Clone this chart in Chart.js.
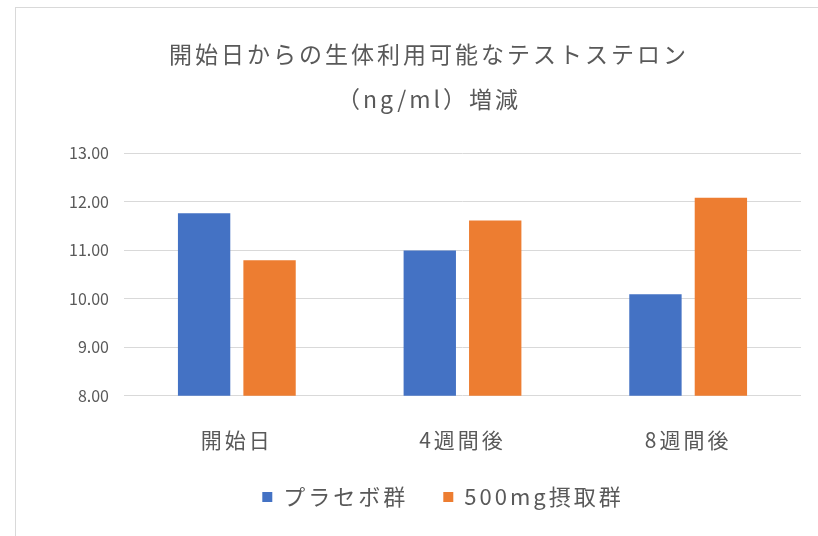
<!DOCTYPE html>
<html>
<head>
<meta charset="utf-8">
<script src="https://cdn.jsdelivr.net/npm/chart.js@4"></script>
<style>
  body { margin: 0; background: #fff; overflow: hidden; width: 818px; height: 536px; }
  #wrap { position: absolute; left: 15px; top: 7px; width: 830px; height: 560px;
          border-left: 1px solid #d9d9d9; border-top: 1px solid #d9d9d9; background: #fff; }
</style>
</head>
<body>
<div id="wrap"><canvas id="grafico" width="830" height="560"></canvas></div>
<script>
// datos
const categorias = ['開始日', '4週間後', '8週間後'];
const placebo = [11.76, 10.99, 10.09];
const grupo500 = [10.79, 11.61, 12.08];
const nombresSeries = ['プラセボ群', '500mg摂取群'];
const tituloLineas = ['開始日からの生体利用可能なテストステロン', '（ng/ml）増減'];
const yMin = 8, yMax = 13, yPaso = 1;

const gris = '#595959';
const fuente = '"Noto Sans CJK JP", "Noto Sans", sans-serif';

// el original tiene letras mas espaciadas: espaciado general, menos en el eje y
const espaciado = {
    id: 'espaciado',
    beforeLayout(chart) { chart.ctx.letterSpacing = '3px'; },
    afterLayout(chart) {
        // mover la leyenda (padding grande solo para separar los items)
        chart.legend.top -= 26;
        chart.legend.bottom -= 26;
        chart.legend.left += 14;
        chart.legend.right += 14;
    },
    beforeDraw(chart) {
        chart.ctx.letterSpacing = '3px';
        const ejeY = chart.scales.y;
        if (!ejeY._parcheado) {
            const original = ejeY.drawLabels;
            ejeY.drawLabels = function (area) {
                const c = this.ctx;
                c.save();
                c.letterSpacing = '0px';
                original.call(this, area);
                c.restore();
            };
            ejeY._parcheado = true;
        }
    }
};

const ctx = document.getElementById('grafico').getContext('2d');
new Chart(ctx, {
    type: 'bar',
    data: {
        labels: categorias,
        datasets: [{
            label: nombresSeries[0],
            data: placebo,
            backgroundColor: '#4472C4'
        }, {
            label: nombresSeries[1],
            data: grupo500,
            backgroundColor: '#ED7D31'
        }]
    },
    plugins: [espaciado],
    options: {
        responsive: false,
        animation: false,
        layout: { padding: { left: 41, right: 45, top: 0, bottom: 24 } },
        datasets: { bar: { categoryPercentage: 0.58, barPercentage: 0.8 } },
        plugins: {
            title: {
                display: true,
                text: tituloLineas,
                color: gris,
                font: { family: fuente, size: 23, weight: 'normal', lineHeight: 45 / 23 },
                padding: { top: 24, bottom: 31 }
            },
            legend: {
                position: 'bottom',
                labels: {
                    color: gris,
                    boxWidth: 10,
                    boxHeight: 10,
                    padding: 35,
                    font: { family: fuente, size: 22 }
                }
            },
            tooltip: { enabled: false }
        },
        scales: {
            x: {
                grid: { display: false },
                border: { display: false },
                ticks: { color: gris, padding: 24, font: { family: fuente, size: 21 } }
            },
            y: {
                min: yMin,
                max: yMax,
                grid: { color: '#d9d9d9', drawTicks: false },
                border: { display: false },
                afterFit: function (axis) { axis.width = 67; },
                ticks: {
                    stepSize: yPaso,
                    color: gris,
                    padding: 15,
                    font: { family: fuente, size: 16 },
                    callback: function (v) { return v.toFixed(2); }
                }
            }
        }
    }
});
</script>
</body>
</html>
